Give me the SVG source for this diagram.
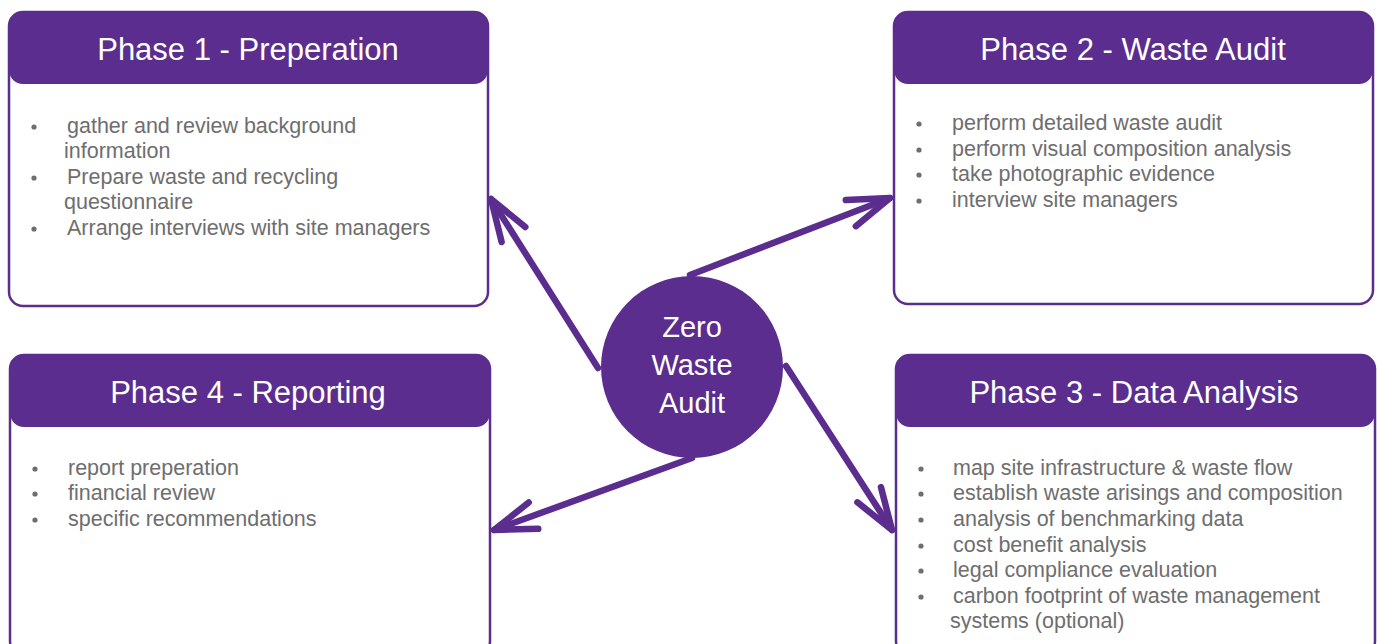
<svg xmlns="http://www.w3.org/2000/svg" width="1378" height="644" viewBox="0 0 1378 644">
<style>
.body{fill:#fff;stroke:#5b2d8e;stroke-width:2.5}
.hdr{fill:#5b2d8e}
.htxt{font-family:"Liberation Sans",Arial,sans-serif;font-size:31px;fill:#fff;text-anchor:middle}
.btxt{font-family:"Liberation Sans",Arial,sans-serif;font-size:21.5px;fill:#6e6e6e}
.dot{fill:#6e6e6e}
.ctxt{font-family:"Liberation Sans",Arial,sans-serif;font-size:29px;fill:#fff;text-anchor:middle}
.conn{stroke:#5b2d8e;stroke-width:6.5;fill:none;stroke-linecap:round}
</style>
<defs>
<marker id="arr" markerUnits="userSpaceOnUse" markerWidth="100" markerHeight="100" refX="0" refY="0" orient="auto" overflow="visible">
<path d="M-42,-14 L0,0 L-42,14" fill="none" stroke="#5b2d8e" stroke-width="6.5" stroke-linecap="round" stroke-linejoin="round"/>
</marker>
</defs>
<rect width="1378" height="644" fill="#fff"/>
<g id="connectors">
<line class="conn" x1="598" y1="368" x2="491" y2="199" marker-end="url(#arr)"/>
<line class="conn" x1="690" y1="275" x2="890" y2="198" marker-end="url(#arr)"/>
<line class="conn" x1="786" y1="366" x2="892" y2="530" marker-end="url(#arr)"/>
<line class="conn" x1="692" y1="458" x2="494" y2="530" marker-end="url(#arr)"/>
</g>
<g id="phase1">
<rect class="body" x="9" y="12" width="479" height="294" rx="14"/>
<rect class="hdr" x="9" y="12" width="479" height="72" rx="14"/>
<text class="htxt" x="248" y="60">Phase 1 - Preperation</text>
<circle class="dot" cx="34" cy="127" r="2.6"/>
<circle class="dot" cx="34" cy="178" r="2.6"/>
<circle class="dot" cx="34" cy="229" r="2.6"/>
<text class="btxt" x="67" y="133">gather and review background</text>
<text class="btxt" x="64" y="158">information</text>
<text class="btxt" x="67" y="184">Prepare waste and recycling</text>
<text class="btxt" x="64" y="209">questionnaire</text>
<text class="btxt" x="67" y="235">Arrange interviews with site managers</text>
</g>
<g id="phase2">
<rect class="body" x="894" y="12" width="479" height="292" rx="14"/>
<rect class="hdr" x="894" y="12" width="479" height="72" rx="14"/>
<text class="htxt" x="1133" y="60">Phase 2 - Waste Audit</text>
<circle class="dot" cx="919" cy="124" r="2.6"/>
<circle class="dot" cx="919" cy="150" r="2.6"/>
<circle class="dot" cx="919" cy="175" r="2.6"/>
<circle class="dot" cx="919" cy="201" r="2.6"/>
<text class="btxt" x="952" y="130">perform detailed waste audit</text>
<text class="btxt" x="952" y="156">perform visual composition analysis</text>
<text class="btxt" x="952" y="181">take photographic evidence</text>
<text class="btxt" x="952" y="207">interview site managers</text>
</g>
<g id="phase4">
<rect class="body" x="10" y="355" width="480" height="300" rx="14"/>
<rect class="hdr" x="10" y="355" width="480" height="72" rx="14"/>
<text class="htxt" x="248" y="403">Phase 4 - Reporting</text>
<circle class="dot" cx="35" cy="469" r="2.6"/>
<circle class="dot" cx="35" cy="494" r="2.6"/>
<circle class="dot" cx="35" cy="520" r="2.6"/>
<text class="btxt" x="68" y="475">report preperation</text>
<text class="btxt" x="68" y="500">financial review</text>
<text class="btxt" x="68" y="526">specific recommendations</text>
</g>
<g id="phase3">
<rect class="body" x="896" y="355" width="479" height="300" rx="14"/>
<rect class="hdr" x="896" y="355" width="479" height="72" rx="14"/>
<text class="htxt" x="1134" y="403">Phase 3 - Data Analysis</text>
<circle class="dot" cx="921" cy="469" r="2.6"/>
<circle class="dot" cx="921" cy="494" r="2.6"/>
<circle class="dot" cx="921" cy="520" r="2.6"/>
<circle class="dot" cx="921" cy="546" r="2.6"/>
<circle class="dot" cx="921" cy="571" r="2.6"/>
<circle class="dot" cx="921" cy="597" r="2.6"/>
<text class="btxt" x="953" y="475">map site infrastructure &amp; waste flow</text>
<text class="btxt" x="953" y="500">establish waste arisings and composition</text>
<text class="btxt" x="953" y="526">analysis of benchmarking data</text>
<text class="btxt" x="953" y="552">cost benefit analysis</text>
<text class="btxt" x="953" y="577">legal compliance evaluation</text>
<text class="btxt" x="953" y="603">carbon footprint of waste management</text>
<text class="btxt" x="950" y="628">systems (optional)</text>
</g>
<g id="center">
<circle cx="692" cy="367" r="91" fill="#5b2d8e"/>
<text class="ctxt" x="692" y="337">Zero</text>
<text class="ctxt" x="692" y="375">Waste</text>
<text class="ctxt" x="692" y="413">Audit</text>
</g>
</svg>
